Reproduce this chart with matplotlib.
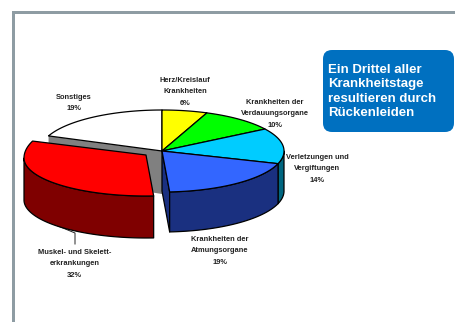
import numpy as np
import matplotlib
matplotlib.use("Agg")
import matplotlib.pyplot as plt
from matplotlib.patches import FancyBboxPatch, Rectangle

# Anteile der Krankheitstage, im Uhrzeigersinn ab zwölf Uhr
categories = ["Herz/Kreislauf\nKrankheiten", "Krankheiten der\nVerdauungsorgane",
              "Verletzungen und\nVergiftungen", "Krankheiten der\nAtmungsorgane",
              "Muskel- und Skelett-\nerkrankungen", "Sonstiges"]
shares = [6, 10, 14, 19, 32, 19]
top_colors = ["#FFFF00", "#00FF00", "#00CCFF", "#3366FF", "#FF0000", "#FFFFFF"]
side_colors = ["#808000", "#008000", "#006680", "#1A3080", "#7F0000", "#808080"]
label_pos = [(185, 80), (275, 102), (317, 157), (220, 239), (74.5, 252), (74, 97)]
callout = ["Ein Drittel aller", "Krankheitstage", "resultieren durch", "Rückenleiden"]

CX, CY, RX, RY, DEPTH = 162, 151, 122, 41, 40
# Herausgezogenes Stück: Spitze, Ellipsenmitte und perspektivische Halbachsen
APEX = (146, 155)
PULLED_CY, PULLED_RY_UP, PULLED_RY_DOWN, PULLED_DEPTH = 158, 46, 38, 42
FONT = "Liberation Sans"

fig = plt.figure(figsize=(4.55, 3.22), dpi=100)
ax = fig.add_axes([0, 0, 1, 1])
ax.set_xlim(0, 455)
ax.set_ylim(322, 0)
ax.axis("off")

# Rahmen der Folie
frame = "#8E9CA3"
ax.add_patch(Rectangle((12, 10.7), 443, 3.2, fc=frame, ec="none"))
ax.add_patch(Rectangle((12, 10.7), 3, 312, fc=frame, ec="none"))


def arc(start, stop, cx, cy):
    # Bruchteile des Kreises, von oben im Uhrzeigersinn gezählt
    t = np.linspace(start, stop, 120) * 2 * np.pi
    return cx + RX * np.sin(t), cy - RY * np.cos(t)


def pulled_arc(start, stop):
    t = np.linspace(start, stop, 160) * 2 * np.pi
    c = np.cos(t)
    return APEX[0] + RX * np.sin(t), PULLED_CY - np.where(c > 0, PULLED_RY_UP, PULLED_RY_DOWN) * c


edges = np.cumsum([0] + shares) / sum(shares)
line = dict(ec="black", lw=0.9, joinstyle="round")

# Graue Innenwand hinter dem herausgezogenen Stück
x0, y0 = arc(edges[5], edges[5], CX, CY)
ax.fill([x0[0], CX, CX, x0[0]], [y0[0], CY, CY + DEPTH + 3, y0[0] + DEPTH],
        fc="#808080", ec="none", zorder=1)

# Mantelflächen und Deckflächen der nicht versetzten Stücke
for i in [5, 0, 1, 2, 3]:
    x, y = arc(edges[i], edges[i + 1], CX, CY)
    ax.fill(np.r_[CX, x], np.r_[CY, y], fc=top_colors[i], zorder=4, **line)
for i in [2, 3]:
    start = max(edges[i], 0.25)
    x, y = arc(start, edges[i + 1], CX, CY)
    ax.fill(np.r_[x, x[::-1]], np.r_[y, y[::-1] + DEPTH], fc=side_colors[i], zorder=3, **line)
# Schnittfläche des blauen Stücks
bx, by = arc(edges[4], edges[4], CX, CY)
ax.fill([CX, bx[0], bx[0], CX], [CY, by[0], by[0] + DEPTH, CY + DEPTH],
        fc=side_colors[3], zorder=2, **line)

# Herausgezogenes Stück
x, y = pulled_arc(edges[4], 0.75)
ax.fill(np.r_[x, x[::-1]], np.r_[y, y[::-1] + PULLED_DEPTH], fc=side_colors[4], zorder=5, **line)
x, y = pulled_arc(edges[4], edges[5])
ax.fill(np.r_[APEX[0], x], np.r_[APEX[1], y], fc=top_colors[4], zorder=6, **line)

# Führungslinie zur Beschriftung
ax.plot([58, 75, 75], [226, 233, 244], color="#222222", lw=0.7, zorder=2)

# Beschriftungen
for name, share, (lx, ly) in zip(categories, shares, label_pos):
    rows = name.split("\n") + [f"{share}%"]
    for k, row in enumerate(rows):
        ax.text(lx, ly + k * 11.6, row, ha="center", va="center", family=FONT,
                fontweight="bold", fontsize=5.4, color="#222222", zorder=8)

# Hinweisfeld
ax.add_patch(FancyBboxPatch((330, 57), 117, 68, boxstyle="round,pad=7,rounding_size=9",
                            fc="#0070C0", ec="none", zorder=7))
for k, row in enumerate(callout):
    ax.text(328, 69.5 + k * 14.5, row, ha="left", va="center", family=FONT,
            fontweight="bold", fontsize=9.55, color="white", zorder=8)

fig.savefig("out.png", dpi=100)
